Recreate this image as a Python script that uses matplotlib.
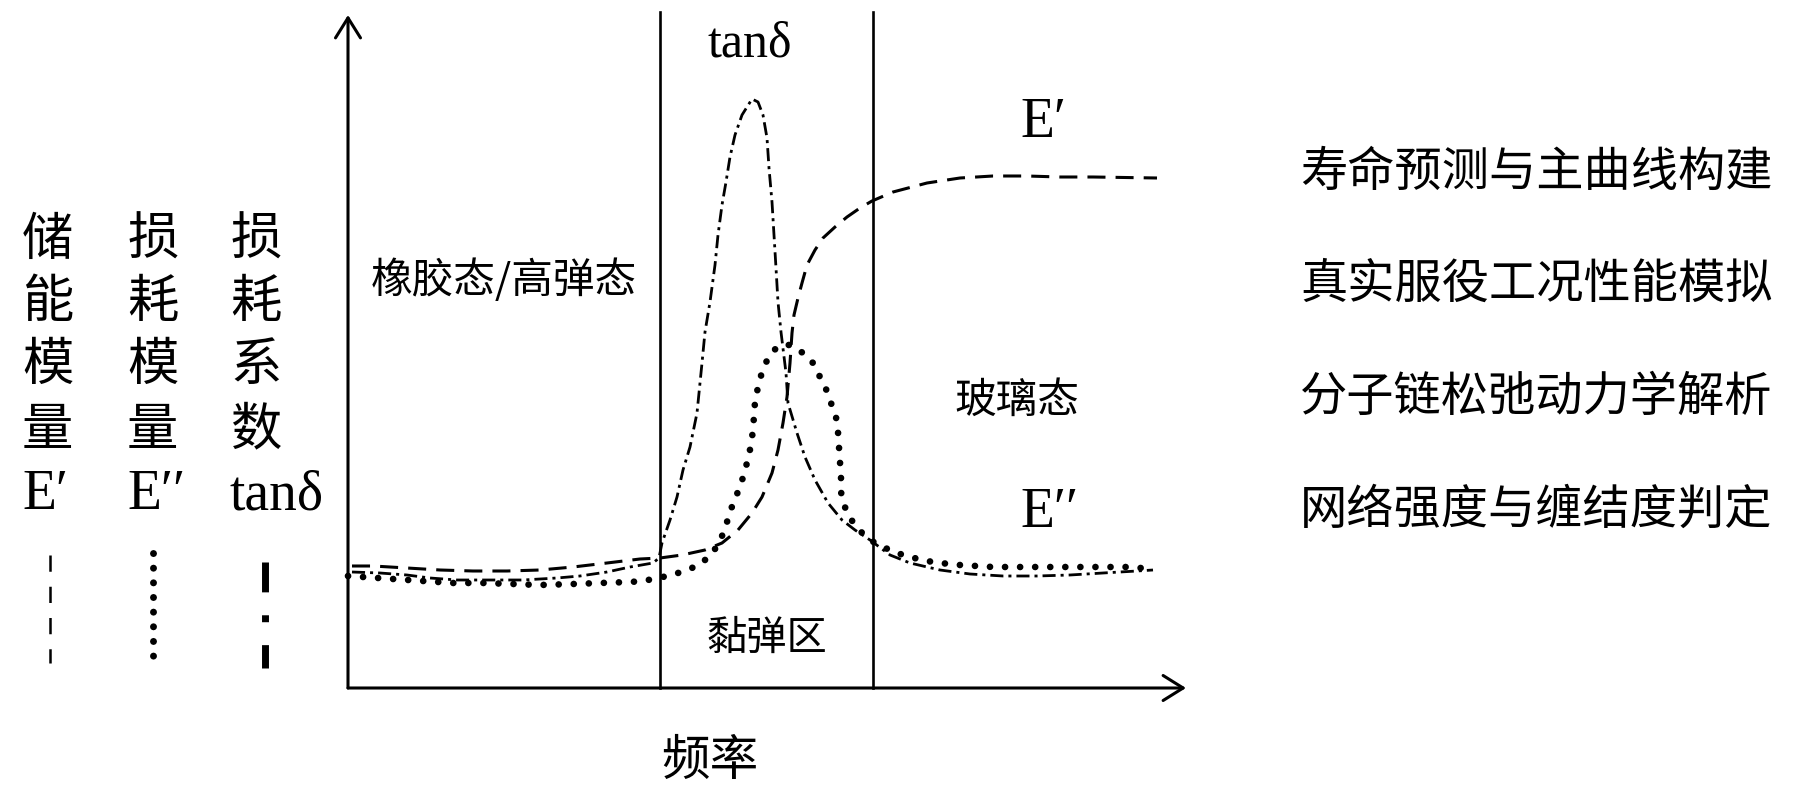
import matplotlib
matplotlib.use("Agg")
import matplotlib.pyplot as plt

W, H = 1808, 791
CJK = ["Noto Sans CJK SC", "DejaVu Sans"]
SERIF = ["Liberation Serif", "DejaVu Serif"]

# curves (arbitrary units: frequency 0..836, response 0..671)
e1_x = [4, 25, 59, 92, 125, 159, 192, 225, 259, 292, 312, 334, 357, 374, 390, 404,
        414, 424, 430, 435, 439, 442, 444, 446, 450, 454, 459, 467, 475, 487, 499,
        512, 524, 545, 579, 612, 645, 679, 712, 745, 809]
e1_y = [122, 122, 120, 118, 117, 117, 118, 121, 125, 129, 130, 133, 138, 145, 158, 175,
        191, 215, 238, 265, 291, 325, 355, 373, 390, 405, 423, 438, 450, 461, 471,
        480, 487, 496, 505, 510, 512, 512, 511, 511, 510]

e2_x = [0, 15, 45, 75, 105, 135, 165, 192, 225, 252, 282, 295, 310, 324, 339, 351,
        363, 371, 377, 381, 386, 392, 396, 400, 403, 405, 406, 407, 410, 414, 420,
        429, 436, 442, 455, 465, 472, 478, 483, 488, 490, 491, 492, 493, 493, 496,
        502, 511, 522, 535, 549, 562, 579, 592, 612, 645, 679, 712, 745, 779, 807]
e2_y = [112, 111, 109, 107, 105, 105, 104, 103, 104, 105, 106, 107, 110, 113, 118, 123,
        133, 145, 159, 173, 187, 201, 214, 229, 243, 258, 272, 286, 301, 316, 330,
        341, 343, 343, 335, 325, 311, 299, 285, 271, 256, 241, 226, 211, 196, 183,
        170, 158, 148, 141, 135, 131, 127, 125, 123, 121, 121, 121, 121, 121, 119]

tan_x = [4, 32, 59, 82, 109, 142, 175, 209, 232, 259, 282, 305, 311, 314, 322, 329,
         335, 342, 349, 354, 357, 362, 367, 370, 374, 378, 382, 387, 394, 404, 410,
         415, 419, 421, 424, 426, 428, 430, 433, 438, 440, 449, 457, 467, 480, 494,
         507, 522, 542, 562, 592, 622, 655, 689, 722, 755, 789, 805]
tan_y = [116, 115, 113, 110, 108, 108, 108, 110, 112, 116, 121, 125, 130, 145, 168, 191,
         218, 241, 275, 325, 356, 386, 423, 453, 483, 506, 531, 553, 573, 589, 586,
         573, 550, 520, 486, 453, 420, 386, 356, 315, 285, 255, 231, 208, 185, 168,
         158, 148, 133, 125, 118, 114, 112, 112, 113, 115, 117, 118]

region_edges = [312, 525]

left_cols = [["储", "能", "模", "量", "E′"],
             ["损", "耗", "模", "量", "E′′"],
             ["损", "耗", "系", "数", "tanδ"]]
right_items = ["寿命预测与主曲线构建", "真实服役工况性能模拟",
               "分子链松弛动力学解析", "网络强度与缠结度判定"]

fig = plt.figure(figsize=(W / 100, H / 100), dpi=100)
fig.patch.set_facecolor("white")

# overlay in pixel coordinates for labels and legend samples
ov = fig.add_axes([0, 0, 1, 1])
ov.set_xlim(0, W)
ov.set_ylim(H, 0)
ov.axis("off")

ox, oy = 348, 688
ax = fig.add_axes([ox / W, (H - oy) / H, 836 / W, 671 / H])
ax.set_xlim(0, 836)
ax.set_ylim(0, 671)
ax.axis("off")

ax.plot(e1_x, e1_y, color="black", lw=2.2, linestyle=(0, (5.9, 3.3)), clip_on=False)
ax.plot(e2_x, e2_y, color="black", lw=4.8, linestyle=(0, (0.01, 2.25)),
        dash_capstyle="round", clip_on=False)
ax.plot(tan_x, tan_y, color="black", lw=2.0, linestyle=(0, (4.7, 1.8, 1.1, 1.8)),
        clip_on=False)

for xe in region_edges:
    ax.plot([xe, xe], [0, 676], color="black", lw=1.9, clip_on=False)

# axes with open arrow heads
arr = dict(arrowstyle="->,head_length=0.72,head_width=0.45", color="black",
           lw=2.2, shrinkA=0, shrinkB=0, mutation_scale=20)
ax.annotate("", xy=(838, 0), xytext=(0, 0), arrowprops=arr, annotation_clip=False)
ax.annotate("", xy=(0, 673), xytext=(0, 0), arrowprops=arr, annotation_clip=False)

# labels inside the plot
ov.text(750, 44, "tanδ", family=SERIF, fontsize=36, ha="center", va="center")
ov.text(1020, 123, "E′", family=SERIF, fontsize=40, ha="left", va="center")
ov.text(1020, 513, "E′′", family=SERIF, fontsize=40, ha="left", va="center")
ov.text(504, 280, "橡胶态/高弹态", family=CJK, fontsize=30, ha="center", va="center")
ov.text(1017, 401, "玻璃态", family=CJK, fontsize=30, ha="center", va="center")
ov.text(767, 638, "黏弹区", family=CJK, fontsize=29, ha="center", va="center")
ov.text(710, 761, "频率", family=CJK, fontsize=35, ha="center", va="center")

# left vertical legend columns
col_x = [22, 127, 230]
row_y = [240, 302, 365, 430, 495]
for cx, chars in zip(col_x, left_cols):
    for ry, ch in zip(row_y, chars):
        fam = SERIF if ch[0] in "Et" else CJK
        fs = 40 if ch[0] in "Et" else 37
        ov.text(cx, ry, ch, family=fam, fontsize=fs, ha="left", va="center")

ov.plot([50, 50], [555, 663], color="black", lw=1.8, linestyle=(0, (6.5, 6)))
ov.plot([153, 153], [553, 658], color="black", lw=5, linestyle=(0, (0.01, 2.1)),
        dash_capstyle="round")
ov.plot([265, 265], [562, 668], color="black", lw=5, linestyle=(0, (4.3, 3.3, 1, 3.3)))

# right-hand list
right_y = [173, 285, 398, 511]
for ry, txt in zip(right_y, right_items):
    ov.text(1300, ry, txt, family=CJK, fontsize=34, ha="left", va="center")

fig.savefig("out.png", dpi=100, facecolor="white")
